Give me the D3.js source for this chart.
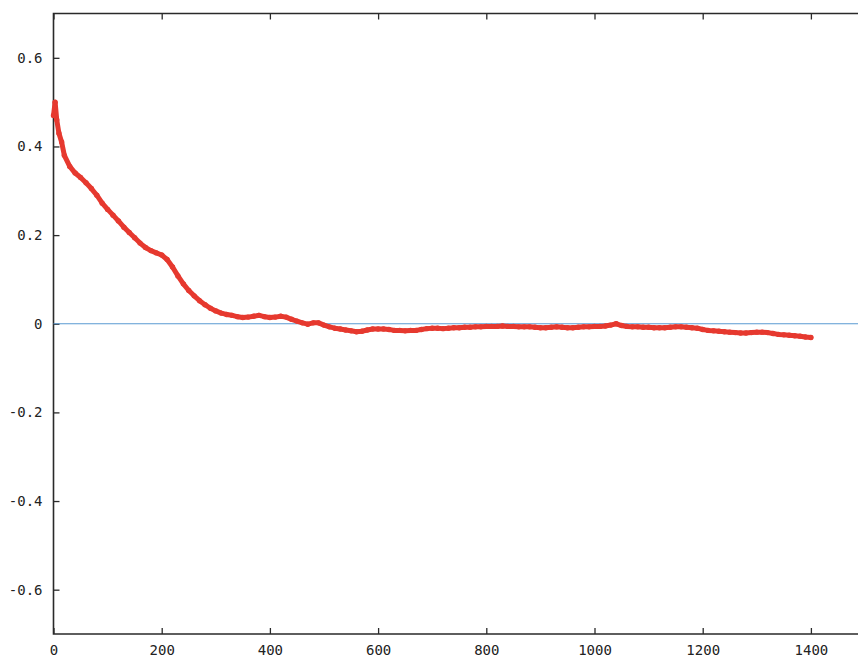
<!DOCTYPE html>
<html>
<head>
<meta charset="utf-8">
<script src="https://cdn.jsdelivr.net/npm/d3@7"></script>
<style>
  html, body { margin: 0; padding: 0; background: #fff; overflow: hidden; }
  svg { display: block; }
  .tick-label { font-family: "DejaVu Sans Mono", monospace; font-size: 14px; fill: #222; }
</style>
</head>
<body>
<svg id="chart" width="858" height="658"></svg>
<script>
// Iteration step and measured value of the run
const steps = [
  0, 3, 6, 10, 15, 20, 30, 40, 50, 60, 70, 80, 90, 100, 110, 120, 130, 140, 150, 160,
  170, 180, 190, 200, 210, 220, 230, 240, 250, 260, 270, 280, 290, 300, 310, 320, 330, 340, 350, 360,
  370, 380, 390, 400, 410, 420, 430, 440, 450, 460, 470, 480, 490, 500, 510, 520, 530, 540, 550, 560,
  570, 580, 590, 600, 610, 620, 630, 640, 650, 660, 670, 680, 690, 700, 710, 720, 730, 740, 750, 760,
  770, 780, 790, 800, 810, 820, 830, 840, 850, 860, 870, 880, 890, 900, 910, 920, 930, 940, 950, 960,
  970, 980, 990, 1000, 1010, 1020, 1030, 1040, 1050, 1060, 1070, 1080, 1090, 1100, 1110, 1120, 1130, 1140, 1150, 1160,
  1170, 1180, 1190, 1200, 1210, 1220, 1230, 1240, 1250, 1260, 1270, 1280, 1290, 1300, 1310, 1320, 1330, 1340, 1350, 1360,
  1370, 1380, 1390, 1400
];
const values = [
  0.470, 0.500, 0.460, 0.430, 0.410, 0.380, 0.355, 0.340, 0.330, 0.318, 0.305, 0.290, 0.272, 0.258, 0.245, 0.232, 0.218, 0.206, 0.194, 0.182,
  0.172, 0.165, 0.160, 0.155, 0.145, 0.128, 0.108, 0.090, 0.075, 0.063, 0.052, 0.043, 0.035, 0.029, 0.024, 0.021, 0.019, 0.016, 0.014, 0.015,
  0.017, 0.019, 0.016, 0.014, 0.015, 0.017, 0.015, 0.010, 0.006, 0.002, -0.001, 0.002, 0.002, -0.003, -0.007, -0.010, -0.012, -0.014, -0.016, -0.018,
  -0.017, -0.014, -0.012, -0.012, -0.012, -0.013, -0.015, -0.015, -0.016, -0.015, -0.015, -0.013, -0.011, -0.010, -0.010, -0.011, -0.010, -0.009, -0.009, -0.008,
  -0.008, -0.007, -0.007, -0.006, -0.006, -0.006, -0.005, -0.006, -0.006, -0.007, -0.007, -0.007, -0.008, -0.009, -0.009, -0.008, -0.007, -0.008, -0.009, -0.009,
  -0.008, -0.007, -0.007, -0.006, -0.006, -0.005, -0.003, 0.000, -0.004, -0.006, -0.007, -0.007, -0.008, -0.008, -0.009, -0.009, -0.009, -0.008, -0.007, -0.007,
  -0.008, -0.009, -0.010, -0.013, -0.015, -0.016, -0.017, -0.018, -0.019, -0.020, -0.021, -0.021, -0.020, -0.019, -0.019, -0.020, -0.022, -0.024, -0.025, -0.026,
  -0.027, -0.028, -0.030, -0.031
];
// Reference level drawn across the whole plot
const baseline = 0;

const xTicks = [0, 200, 400, 600, 800, 1000, 1200, 1400];
const yTicks = [-0.6, -0.4, -0.2, 0, 0.2, 0.4, 0.6];
const xDomain = [0, 1500];
const yDomain = [-0.7, 0.7];

const svg = d3.select("#chart");
const plotLeft = 53.5, plotRight = 865, plotTop = 13.5, plotBottom = 634;

const x = d3.scaleLinear().domain(xDomain).range([plotLeft, plotRight]);
const y = d3.scaleLinear().domain(yDomain).range([plotBottom, plotTop]);

const ink = "#2a2a2a";
const tickLen = 6;

// Frame (right side lies beyond the visible area)
svg.append("path")
  .attr("d", `M${plotRight},${plotTop}H${plotLeft}V${plotBottom}H${plotRight}`)
  .attr("fill", "none")
  .attr("stroke", ink)
  .attr("stroke-width", 1.6);

// Bottom axis: inward ticks and labels
const xAxis = d3.axisBottom(x).tickValues(xTicks).tickSize(-tickLen).tickPadding(11).tickFormat(d3.format("d"));
const gx = svg.append("g").attr("transform", `translate(0,${plotBottom})`).call(xAxis);
gx.select(".domain").remove();
gx.selectAll(".tick line").attr("stroke", ink).attr("stroke-width", 1.3);
gx.selectAll(".tick text").attr("class", "tick-label").attr("dy", "0.71em").attr("fill", "#222");

// Mirrored ticks along the top border
const xTop = d3.axisTop(x).tickValues(xTicks).tickSize(-tickLen).tickFormat("");
const gt = svg.append("g").attr("transform", `translate(0,${plotTop})`).call(xTop);
gt.select(".domain").remove();
gt.selectAll(".tick line").attr("stroke", ink).attr("stroke-width", 1.3);

// Left axis: inward ticks and labels
const yAxis = d3.axisLeft(y).tickValues(yTicks).tickSize(-tickLen).tickPadding(11)
  .tickFormat(d => d === 0 ? "0" : d3.format(".1f")(d).replace("\u2212", "-"));
const gy = svg.append("g").attr("transform", `translate(${plotLeft},0)`).call(yAxis);
gy.select(".domain").remove();
gy.selectAll(".tick line").attr("stroke", ink).attr("stroke-width", 1.3);
gy.selectAll(".tick text").attr("class", "tick-label").attr("fill", "#222");

// Zero reference line
svg.append("line")
  .attr("x1", x(xDomain[0])).attr("x2", x(xDomain[1]))
  .attr("y1", y(baseline)).attr("y2", y(baseline))
  .attr("stroke", "#5a9ad2")
  .attr("stroke-width", 1.2);

// Measured series
const pts = steps.map((s, i) => [s, values[i]]);
const line = d3.line().x(d => x(d[0])).y(d => y(d[1])).curve(d3.curveLinear);
svg.append("path")
  .datum(pts)
  .attr("d", line)
  .attr("fill", "none")
  .attr("stroke", "#e6392f")
  .attr("stroke-width", 5)
  .attr("stroke-linejoin", "round")
  .attr("stroke-linecap", "round");

svg.append("g").selectAll("circle")
  .data(pts)
  .join("circle")
  .attr("cx", d => x(d[0]))
  .attr("cy", d => y(d[1]))
  .attr("r", 2.7)
  .attr("fill", "#e6392f");
</script>
</body>
</html>
